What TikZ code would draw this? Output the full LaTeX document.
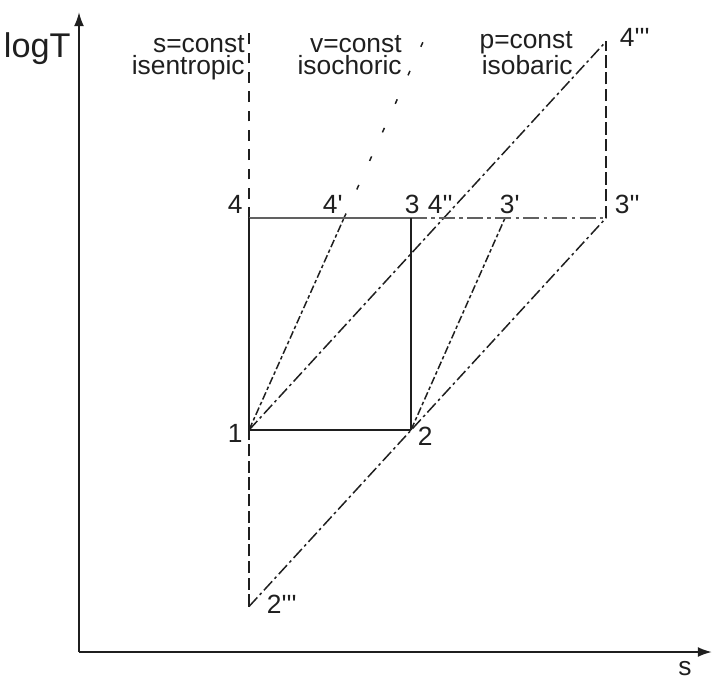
\documentclass[tikz,border=0pt]{standalone}
\usepackage{fontspec}
\setmainfont{Liberation Sans}[Ligatures=TeXOff]
\usetikzlibrary{arrows.meta}
\definecolor{ink}{gray}{0.12}
\definecolor{isoTcol}{gray}{0.38}

\begin{document}
\begin{tikzpicture}[
    axis/.style={line width=1.15pt, draw=ink, -{Latex[length=8pt,width=5.6pt]}},
    lbl/.style={font=\fontsize{15}{12.6}\selectfont, text=ink, inner sep=0pt},
    cyc/.style={line width=1.1pt, draw=ink},
    cycthin/.style={line width=0.7pt, draw=ink},
    isoT/.style={line width=1.2pt, draw=isoTcol},
    isoTdd/.style={line width=1.2pt, draw=isoTcol, dash pattern=on 9pt off 2.5pt on 2pt off 2.5pt},
    isentr/.style={line width=0.85pt, draw=ink, dash pattern=on 7pt off 2.5pt},
    isentrfar/.style={line width=0.85pt, draw=ink, dash pattern=on 6pt off 5pt},
    isochor/.style={line width=0.85pt, draw=ink, dash pattern=on 4.5pt off 1.5pt on 2pt off 1.5pt},
    isochorfar/.style={line width=0.85pt, draw=ink, dash pattern=on 2.8pt off 15pt},
    isobar/.style={line width=0.85pt, draw=ink, dash pattern=on 7pt off 2pt on 1.5pt off 2pt},
  ]
        \useasboundingbox (0,0) rectangle (14.24,13.56);
        % axes
        \coordinate (O) at (1.58,0.52);
        \coordinate (ytop) at (1.58,13.32);
        \coordinate (xend) at (14.24,0.52);
        \draw[axis] (O) -- (ytop);
        \draw[axis] (O) -- (xend);
        \node[lbl, font=\fontsize{19.5}{20}\selectfont, anchor=base east] (logT) at (1.42,12.4) {logT};
        \node[lbl, anchor=base] (sax) at (13.7,0.05) {s};
        % state points
        \coordinate (n1) at (4.98,4.96);
        \coordinate (n2) at (8.22,4.96);
        \coordinate (n3) at (8.22,9.2);
        \coordinate (n4) at (4.98,9.2);
        \coordinate (n4p) at (6.88,9.2);
        \coordinate (n3p) at (10.1,9.2);
        \coordinate (n3pp) at (12.12,9.2);
        \coordinate (n4ppp) at (12.12,12.73);
        \coordinate (n2ppp) at (4.98,1.43);
        \coordinate (stop) at (4.98,12.9); % end of s=const
        \coordinate (vtop) at (8.54,12.9); % end of v=const
        % s=const
        \draw[isentr] (n2ppp) -- (n1);
        \draw[isentrfar] (n4) -- (stop);
        \draw[isentr] (n3pp) -- (n4ppp);
        % v=const
        \draw[isochor] (n1) -- (n4p);
        \draw[isochorfar] (n4p) -- (vtop);
        \draw[isochor] (n2) -- (n3p);
        % p=const
        \draw[isobar] (n1) -- (n4ppp);
        \draw[isobar] (n2ppp) -- (n3pp);
        % T=const
        \draw[isoT] (n4) -- (n3);
        \draw[isoTdd] (n3) -- (n3pp);
        % cycle
        \draw[cyc] (n1) -- (n4);
        \draw[cyc] (n2) -- (n3);
        \draw[cycthin] (n1) -- (n2);
        % labels
        \node[lbl, anchor=base east] (l1) at (4.86,4.72) {1};
        \node[lbl, anchor=base east] (l2) at (8.66,4.66) {2};
        \node[lbl, anchor=base east] (l3) at (8.4,9.3) {3};
        \node[lbl, anchor=base east] (l4) at (4.86,9.3) {4};
        \node[lbl, anchor=base east] (l4p) at (6.86,9.3) {4'};
        \node[lbl, anchor=base east] (l4pp) at (9.06,9.3) {4''};
        \node[lbl, anchor=base east] (l3p) at (10.4,9.3) {3'};
        \node[lbl, anchor=base east] (l3pp) at (12.8,9.3) {3''};
        \node[lbl, anchor=base east] (l4ppp) at (13.0,12.62) {4'''};
        \node[lbl, anchor=base east] (l2ppp) at (5.94,1.3) {2'''};
        \node[lbl, align=right, anchor=base east] (hs) at (4.9,12.06) {s=const\\isentropic};
        \node[lbl, align=right, anchor=base east] (hv) at (8.04,12.06) {v=const\\isochoric};
        \node[lbl, align=right, anchor=base east] (hp) at (11.46,12.06) {p=const\\isobaric};
    \end{tikzpicture}
\end{document}
